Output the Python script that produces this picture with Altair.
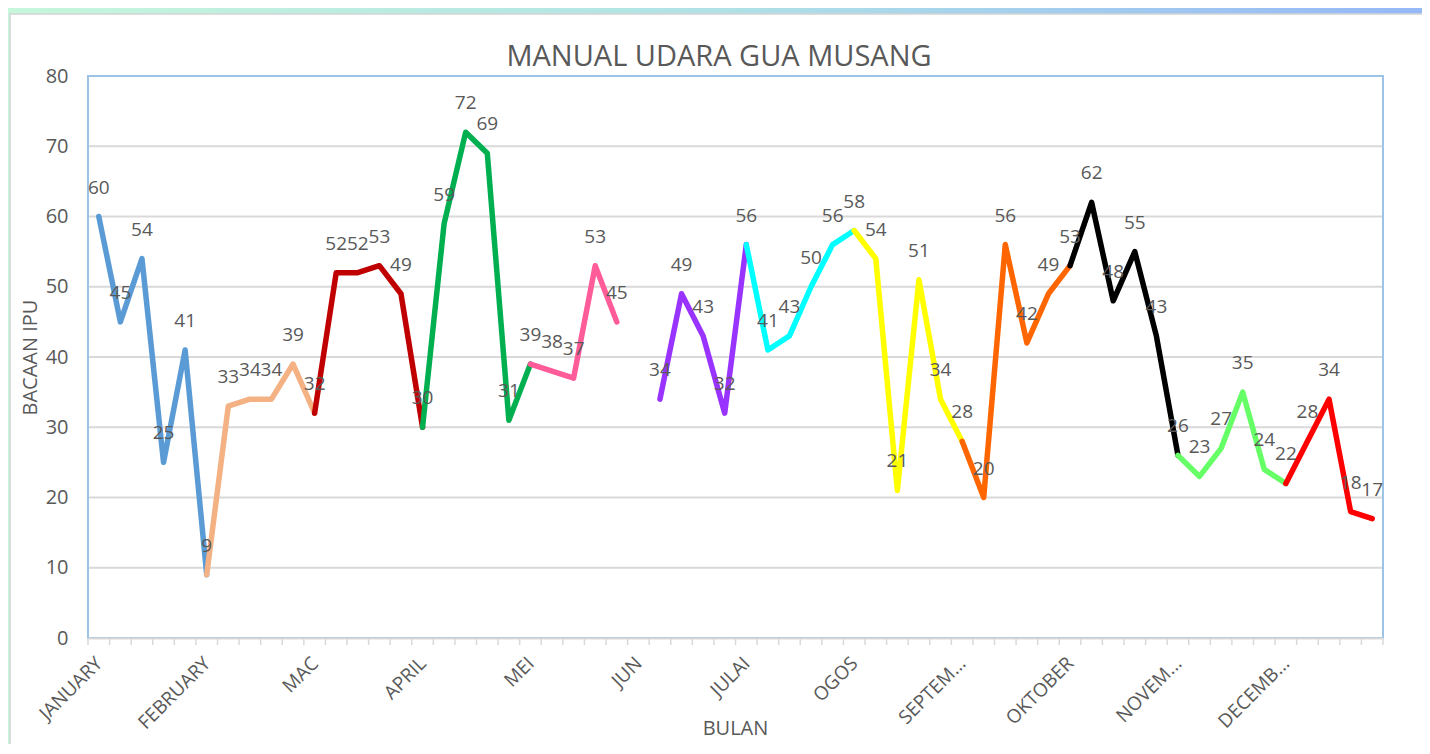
import altair as alt
import pandas as pd

# ---------------- data ----------------
title_text = "MANUAL UDARA GUA MUSANG"
months = ["JANUARY", "FEBRUARY", "MAC", "APRIL", "MEI", "JUN", "JULAI",
          "OGOS", "SEPTEM...", "OKTOBER", "NOVEM...", "DECEMB..."]
month_colors = ["#5b9bd5", "#f4b183", "#c00000", "#00b050", "#ff5c99", "#9933ff",
                "#00ffff", "#ffff00", "#ff6600", "#000000", "#66ff66", "#ff0000"]
readings = [60, 45, 54, 25, 41,
            9, 33, 34, 34, 39,
            32, 52, 52, 53, 49,
            30, 59, 72, 69, 31,
            39, 38, 37, 53, 45,
            None, 34, 49, 43, 32,
            56, 41, 43, 50, 56,
            58, 54, 21, 51, 34,
            28, 20, 56, 42, 49,
            53, 62, 48, 55, 43,
            26, 23, 27, 35, 24,
            22, 28, 34, 18, 17]
per_month = 5
y_ticks = [0, 10, 20, 30, 40, 50, 60, 70, 80]

# ---------------- tables ----------------
n = len(readings)
seg_rows = []
for k, m in enumerate(months):
    for i in range(k * per_month, min(k * per_month + per_month + 1, n)):
        if readings[i] is not None:
            seg_rows.append({"idx": i, "val": readings[i], "seg": m})
seg_df = pd.DataFrame(seg_rows)
pts_df = pd.DataFrame([{"idx": i, "val": v, "lab": str(v)}
                       for i, v in enumerate(readings) if v is not None])
grid_df = pd.DataFrame({"val": y_ticks})
tick_df = pd.DataFrame({"idx": [i - 0.5 for i in range(n + 1)]})
one_df = pd.DataFrame({"t": [title_text]})

W, H = 1295, 562
PAD_B = 106
FONT = "Open Sans"
GREY = "#595959"

label_expr = "[" + ",".join("'" + m + "'" for m in months) + "][round(datum.value/5)]"

x_enc = alt.X("idx:Q",
              scale=alt.Scale(domain=[-0.5, n - 0.5], nice=False, zero=False),
              axis=alt.Axis(values=[k * per_month for k in range(len(months))],
                            labelExpr=label_expr, labelAngle=-45, labelAlign="right",
                            labelBaseline="middle", labelPadding=22,
                            labelFont=FONT, labelFontSize=19, labelColor=GREY,
                            labelOverlap=False, labelFlush=False, labelBound=False,
                            ticks=False, grid=False, domain=True,
                            domainColor="#d9d9d9", domainWidth=2,
                            title="BULAN", titleFont=FONT, titleFontSize=20,
                            titleFontWeight="normal", titleColor=GREY,
                            titleX=647, titleY=90, titleAlign="center",
                            titleBaseline="middle", zindex=1))
y_enc = alt.Y("val:Q",
              scale=alt.Scale(domain=[0, 80], nice=False, zero=True),
              axis=alt.Axis(values=y_ticks, labelFont=FONT, labelFontSize=20,
                            labelColor=GREY, labelPadding=20, labelOverlap=False,
                            labelFlush=False, ticks=False, grid=False, domain=False,
                            title="BACAAN IPU", titleFont=FONT, titleFontSize=20,
                            titleFontWeight="normal", titleColor=GREY,
                            titleX=-58, titleY=281, titleAlign="center",
                            titleBaseline="middle", titleAngle=270, zindex=1))

bg = alt.Chart(one_df).mark_rect(
    fill=alt.Gradient(gradient="linear",
                      stops=[alt.GradientStop(color="#c6f7dc", offset=0),
                             alt.GradientStop(color="#b0e2e6", offset=0.5),
                             alt.GradientStop(color="#95b8f7", offset=1)],
                      x1=0, x2=1, y1=0, y2=0)
).encode(x=alt.value(-80), x2=alt.value(W + 39), y=alt.value(-68), y2=alt.value(H + PAD_B))

card = alt.Chart(one_df).mark_rect(fill="white", stroke="#d4d4d4", strokeWidth=1.5).encode(
    x=alt.value(-78), x2=alt.value(W + 60), y=alt.value(-62), y2=alt.value(H + PAD_B + 10))

grid = alt.Chart(grid_df).mark_rule(color="#d9d9d9", strokeWidth=2).encode(
    y=y_enc, x=alt.value(0), x2=alt.value(W))

border = alt.Chart(one_df).mark_rect(fillOpacity=0, stroke="#9dc3e6", strokeWidth=2).encode(
    x=alt.value(0), x2=alt.value(W), y=alt.value(0), y2=alt.value(H))

ticks = alt.Chart(tick_df).mark_rule(color="#d9d9d9", strokeWidth=1.5).encode(
    x=x_enc, y=alt.value(H), y2=alt.value(H + 7))

lines = alt.Chart(seg_df).mark_line(strokeWidth=5.5, strokeJoin="round", strokeCap="round").encode(
    x=x_enc, y=y_enc,
    color=alt.Color("seg:N", scale=alt.Scale(domain=months, range=month_colors), legend=None),
    detail="seg:N", order="idx:Q")

labels = alt.Chart(pts_df).mark_text(font=FONT, fontSize=19, color=GREY,
                                     baseline="middle", align="center", dy=-29).encode(
    x=x_enc, y=y_enc, text="lab:N")

title = alt.Chart(one_df).mark_text(font=FONT, fontSize=29, color=GREY,
                                    baseline="middle", align="center").encode(
    text="t:N", x=alt.value(631), y=alt.value(-19))

chart = alt.layer(bg, card, grid, border, ticks, lines, labels, title).properties(
    width=W, height=H,
    autosize=alt.AutoSizeParams(type="none"),
    padding={"left": 80, "top": 68, "right": 39, "bottom": PAD_B},
    background="white",
).configure_view(stroke=None)

chart.save("out.html", embed_options={"renderer": "svg", "actions": False})
